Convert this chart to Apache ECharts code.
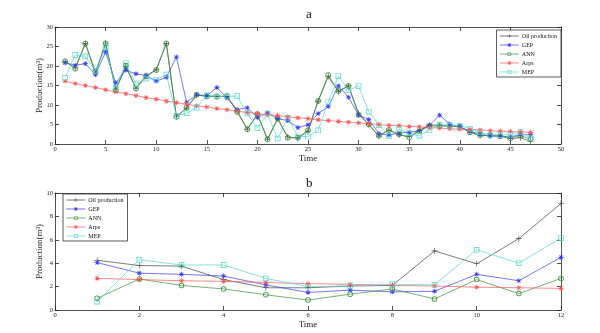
<!DOCTYPE html>
<html>
<head>
<meta charset="utf-8">
<script src="https://cdn.jsdelivr.net/npm/echarts@6/dist/echarts.min.js"></script>
<style>
  html, body { margin: 0; padding: 0; background: #fff; }
  #chart { width: 600px; height: 333px; }
</style>
</head>
<body>
<div id="chart"></div>
<script>
// Panel a: full production history (47 time steps)
const timeA = [1,2,3,4,5,6,7,8,9,10,11,12,13,14,15,16,17,18,19,20,21,22,23,24,25,26,27,28,29,30,31,32,33,34,35,36,37,38,39,40,41,42,43,44,45,46,47];
const oilA  = [21.2,19.5,25.8,18.0,25.9,14.0,19.8,14.3,17.5,19.0,25.8,7.0,9.2,12.5,12.3,12.2,12.2,8.5,3.8,7.5,1.2,6.5,1.8,1.5,3.3,11.0,17.3,13.4,14.9,7.9,5.0,2.0,3.6,2.3,1.9,3.5,4.9,4.8,4.6,4.4,3.1,2.1,2.2,2.1,1.4,1.6,0.7];
const gepA  = [20.8,20.2,20.6,17.8,23.6,15.7,18.9,18.0,17.6,16.1,17.1,22.3,10.7,12.6,12.4,14.5,11.8,8.8,9.3,6.8,8.0,6.5,6.0,4.2,4.9,7.8,9.6,14.9,12.0,7.4,6.3,2.7,2.3,2.8,3.0,3.4,4.8,7.4,5.1,4.4,3.3,2.5,2.0,2.0,1.8,2.4,2.4];
const annA  = [21.2,19.3,25.8,18.6,25.8,13.7,20.1,14.2,17.3,19.0,25.8,7.0,9.3,12.6,12.2,12.2,12.3,8.2,3.8,7.7,1.2,6.6,1.6,1.6,3.5,11.0,17.7,13.6,14.9,7.5,5.0,2.1,3.6,2.5,1.7,3.3,4.6,4.6,4.6,4.4,3.0,2.3,2.2,2.0,1.5,2.2,1.2];
const arpsA = [16.1,15.5,15.0,14.5,13.9,13.4,12.9,12.4,11.9,11.5,11.0,10.6,10.2,9.8,9.5,9.1,8.8,8.4,8.1,7.8,7.5,7.3,7.0,6.7,6.5,6.2,6.0,5.8,5.6,5.4,5.2,5.0,4.8,4.7,4.5,4.4,4.2,4.1,3.9,3.8,3.7,3.6,3.4,3.3,3.2,3.1,3.0];
const mepA  = [17.0,22.8,22.5,18.7,24.8,14.5,20.8,15.3,16.8,16.5,17.8,7.2,7.9,9.3,12.5,12.2,12.2,12.3,7.8,4.1,7.8,1.4,6.7,1.9,1.9,3.5,10.8,17.4,13.8,14.9,8.3,4.9,2.0,3.8,2.7,2.1,3.5,5.0,4.7,4.7,3.9,3.0,2.3,2.3,2.4,3.0,1.5];

// Panel b: forecast period (12 time steps)
const timeB = [1,2,3,4,5,6,7,8,9,10,11,12];
const oilB  = [4.25,3.8,3.75,2.6,1.9,1.9,2.05,2.1,5.05,3.95,6.1,9.1];
const gepB  = [4.05,3.15,3.05,2.9,2.15,1.5,1.7,1.55,1.6,3.05,2.5,4.5];
const annB  = [1.0,2.65,2.1,1.8,1.3,0.85,1.35,1.8,0.95,2.6,1.4,2.7];
const arpsB = [2.7,2.6,2.5,2.45,2.35,2.25,2.2,2.1,2.05,1.95,1.9,1.85];
const mepB  = [0.7,4.3,3.85,3.85,2.7,2.0,2.05,2.2,2.15,5.15,4.0,6.15];

const seriesNames = ['Oil production', 'GEP', 'ANN', 'Arps', 'MEP'];

const FONT = '"Liberation Serif", "DejaVu Serif", serif';
// Marker shapes: plus, asterisk, thin ring and thin square outline
const PLUS = 'path://M4.5,0H5.5V4.5H10V5.5H5.5V10H4.5V5.5H0V4.5H4.5Z';
const STAR = 'path://M4.3,0H5.7V4.3H10V5.7H5.7V10H4.3V5.7H0V4.3H4.3Z M0.9,1.9L1.9,0.9L9.1,8.1L8.1,9.1Z M8.1,0.9L9.1,1.9L1.9,9.1L0.9,8.1Z';
const RING = 'path://M0,5A5,5,0,1,0,10,5A5,5,0,1,0,0,5Z M1.4,5A3.6,3.6,0,1,1,8.6,5A3.6,3.6,0,1,1,1.4,5Z';
const BOX  = 'path://M0,0H10V10H0Z M1.3,1.3V8.7H8.7V1.3Z';

const styles = {
  'Oil production': { color: '#444444', symbol: PLUS, size: 6 },
  'GEP':            { color: '#3a3aff', symbol: STAR, size: 5 },
  'ANN':            { color: '#3a8f3a', symbol: RING, size: 5.5 },
  'Arps':           { color: '#ff5555', symbol: STAR, size: 5 },
  'MEP':            { color: '#4fd8d0', symbol: BOX,  size: 5.5 }
};

function pairs(xs, ys) { return xs.map((x, i) => [x, ys[i]]); }

function makeSeries(name, xs, ys, axisIdx) {
  const s = styles[name];
  return {
    name: name,
    type: 'line',
    xAxisIndex: axisIdx,
    yAxisIndex: axisIdx,
    data: pairs(xs, ys),
    symbol: s.symbol,
    symbolSize: s.size,
    showAllSymbol: true,
    lineStyle: { color: s.color, width: 0.7 },
    itemStyle: { color: s.color, borderWidth: 0 },
    emphasis: { disabled: true },
    animation: false,
    z: 3
  };
}

const tickStyle = { inside: true, length: 4, lineStyle: { color: '#222', width: 0.8 } };
const lineStyleAxis = { show: true, onZero: false, lineStyle: { color: '#222', width: 0.8 } };
const labelStyle = { fontFamily: FONT, fontSize: 6.5, color: '#222' };

function xAxes(gridIndex, max, interval) {
  return [
    { type: 'value', gridIndex, min: 0, max, interval, position: 'bottom',
      axisLine: lineStyleAxis, axisTick: tickStyle, axisLabel: Object.assign({ margin: 2 }, labelStyle),
      splitLine: { show: false },
      name: 'Time', nameLocation: 'middle', nameGap: 10, nameMoveOverlap: false,
      nameTextStyle: { fontFamily: FONT, fontSize: 9, color: '#222' } },
    { type: 'value', gridIndex, min: 0, max, interval, position: 'top',
      axisLine: lineStyleAxis, axisTick: tickStyle, axisLabel: { show: false }, splitLine: { show: false } }
  ];
}

function yAxes(gridIndex, max, interval) {
  return [
    { type: 'value', gridIndex, min: 0, max, interval, position: 'left',
      axisLine: lineStyleAxis, axisTick: tickStyle, axisLabel: Object.assign({ margin: 2 }, labelStyle),
      splitLine: { show: false },
      name: 'Production(m³)', nameLocation: 'middle', nameGap: 11, nameRotate: 90, nameMoveOverlap: false,
      nameTextStyle: { fontFamily: FONT, fontSize: 9, color: '#222' } },
    { type: 'value', gridIndex, min: 0, max, interval, position: 'right',
      axisLine: lineStyleAxis, axisTick: tickStyle, axisLabel: { show: false }, splitLine: { show: false } }
  ];
}

const legendCommon = {
  data: seriesNames,
  orient: 'vertical',
  itemWidth: 19,
  itemHeight: 5,
  itemGap: 3,
  padding: [3, 4, 2, 3],
  backgroundColor: '#fff',
  borderColor: '#333',
  borderWidth: 0.8,
  lineStyle: { width: 0.7 },
  textStyle: { fontFamily: FONT, fontSize: 6, color: '#111', padding: [0, 0, 0, -2] },
  selectedMode: false
};

const xs = xAxes(0, 50, 5).concat(xAxes(1, 12, 2));
const ys = yAxes(0, 30, 5).concat(yAxes(1, 10, 2));

const seriesList = [];
const setA = [oilA, gepA, annA, arpsA, mepA];
const setB = [oilB, gepB, annB, arpsB, mepB];
seriesNames.forEach((n, i) => seriesList.push(makeSeries(n, timeA, setA[i], 0)));
seriesNames.forEach((n, i) => seriesList.push(makeSeries(n, timeB, setB[i], 2)));

const option = {
  backgroundColor: '#fff',
  animation: false,
  title: [
    { text: 'a', left: 301, top: 3, textStyle: { fontFamily: FONT, fontSize: 13, fontWeight: 'normal', color: '#111' } },
    { text: 'b', left: 301, top: 172, textStyle: { fontFamily: FONT, fontSize: 13, fontWeight: 'normal', color: '#111' } }
  ],
  grid: [
    { left: 55, top: 27, width: 506, height: 117 },
    { left: 55, top: 193, width: 506, height: 117 }
  ],
  xAxis: xs,
  yAxis: ys,
  legend: [
    Object.assign({ right: 39, top: 30 }, legendCommon),
    Object.assign({ left: 63, top: 194 }, legendCommon)
  ],
  series: seriesList
};

const chart = echarts.init(document.getElementById('chart'), null, { renderer: 'canvas' });
chart.setOption(option);
</script>
</body>
</html>
